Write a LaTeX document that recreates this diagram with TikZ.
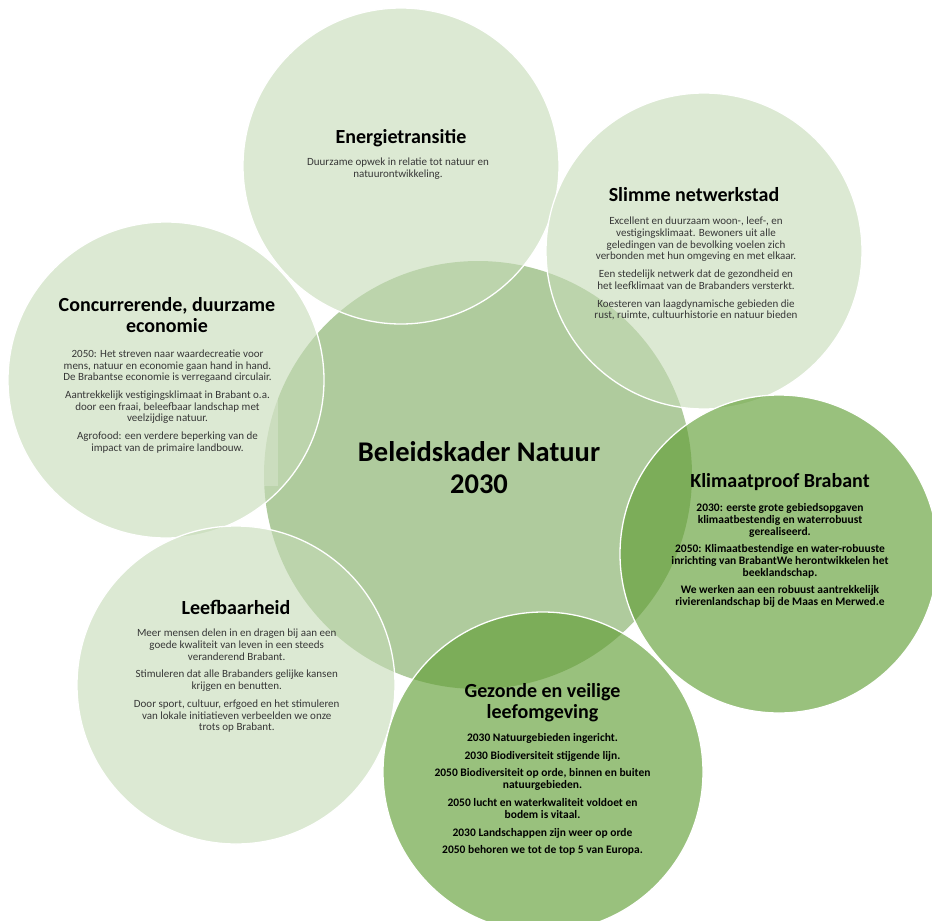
\documentclass[tikz,border=0pt]{standalone}
\usepackage{fontspec}
\setmainfont{Carlito}
\definecolor{centralc}{RGB}{175,203,157}
\definecolor{lightc}{RGB}{198,219,183}
\definecolor{darkc}{RGB}{95,157,50}
\definecolor{bodyc}{RGB}{55,55,55}
\begin{document}
\begin{tikzpicture}[x=1pt,y=-1pt,
  lightbubble/.style={circle, inner sep=0pt, draw=white, line width=1.3pt, fill=lightc, fill opacity=0.6, minimum size=#1},
  darkbubble/.style={circle, inner sep=0pt, draw=white, line width=1.3pt, fill=darkc, fill opacity=0.63, minimum size=#1},
  ttl/.style={font=\fontsize{20}{21}\selectfont\bfseries, align=center, inner sep=0pt},
  bodytxt/.style={font=\fontsize{11}{11.7}\selectfont, text=bodyc, align=center, inner sep=0pt, anchor=north},
  boldbody/.style={font=\fontsize{11.5}{12}\selectfont\bfseries, text=black, align=center, inner sep=0pt, anchor=north}]
\useasboundingbox (0,0) rectangle (932,921);
\clip (0,0) rectangle (932,921);
\fill[white] (0,0) rectangle (932,921);
% central circle
\node[circle, inner sep=0pt, fill=centralc, minimum size=428pt] (central) at (478,475) {};
% text box shade of the left circle
\node[rectangle, inner sep=0pt, fill=white, fill opacity=0.45, minimum width=228pt, minimum height=196pt] (concbox) at (164,388) {};
% outer circles
\node[lightbubble=316pt] (energie) at (401,166) {};
\node[lightbubble=316pt] (slimme) at (704,251) {};
\node[lightbubble=316pt] (conc) at (166,380) {};
\node[lightbubble=318pt] (leef) at (236,685) {};
\node[darkbubble=318pt] (klimaat) at (779,554) {};
\node[darkbubble=320pt] (gezonde) at (543,772) {};
% texts
\node[ttl, anchor=base] (energieT) at (401,143) {Energietransitie};
\node[bodytxt] (energieB) at (398,157.5) {Duurzame opwek in relatie tot natuur en\\natuurontwikkeling.};

\node[ttl, anchor=base] (slimmeT) at (694,201.5) {Slimme netwerkstad};
\node[bodytxt] (slimmeB) at (696,217) {Excellent en duurzaam woon-, leef-, en\\vestigingsklimaat. Bewoners uit alle\\geledingen van de bevolking voelen zich\\verbonden met hun omgeving en met elkaar.\\[6pt]Een stedelijk netwerk dat de gezondheid en\\het leefklimaat van de Brabanders versterkt.\\[6pt]Koesteren van laagdynamische gebieden die\\rust, ruimte, cultuurhistorie en natuur bieden};

\node[ttl, anchor=north] (concT) at (167,297) {Concurrerende, duurzame\\economie};
\node[bodytxt] (concB) at (167.5,349.5) {2050: Het streven naar waardecreatie voor\\mens, natuur en economie gaan hand in hand.\\De Brabantse economie is verregaand circulair.\\[6pt]Aantrekkelijk vestigingsklimaat in Brabant o.a.\\door een fraai, beleefbaar landschap met\\veelzijdige natuur.\\[6pt]Agrofood: een verdere beperking van de\\impact van de primaire landbouw.};

\node[font=\fontsize{28.5}{32}\selectfont\bfseries, align=center, inner sep=0pt, anchor=north] (centralT) at (479,441.5) {Beleidskader Natuur\\2030};

\node[ttl, anchor=base] (klimaatT) at (780,487) {Klimaatproof Brabant};
\node[boldbody] (klimaatB) at (780,503.5) {2030: eerste grote gebiedsopgaven\\klimaatbestendig en waterrobuust\\gerealiseerd.\\[5pt]2050: Klimaatbestendige en water-robuuste\\inrichting van BrabantWe herontwikkelen het\\beeklandschap.\\[5pt]We werken aan een robuust aantrekkelijk\\rivierenlandschap bij de Maas en Merwed.e};

\node[ttl, anchor=base] (leefT) at (236,614) {Leefbaarheid};
\node[bodytxt] (leefB) at (236.7,629) {Meer mensen delen in en dragen bij aan een\\goede kwaliteit van leven in een steeds\\veranderend Brabant.\\[6pt]Stimuleren dat alle Brabanders gelijke kansen\\krijgen en benutten.\\[6pt]Door sport, cultuur, erfgoed en het stimuleren\\van lokale initiatieven verbeelden we onze\\trots op Brabant.};

\node[ttl, anchor=north] (gezondeT) at (542.5,683) {Gezonde en veilige\\leefomgeving};
\node[boldbody] (gezondeB) at (542.5,733.5) {2030 Natuurgebieden ingericht.\\[5.6pt]2030 Biodiversiteit stijgende lijn.\\[5.6pt]2050 Biodiversiteit op orde, binnen en buiten\\natuurgebieden.\\[5.6pt]2050 lucht en waterkwaliteit voldoet en\\bodem is vitaal.\\[5.6pt]2030 Landschappen zijn weer op orde\\[5.6pt]2050 behoren we tot de top 5 van Europa.};
\end{tikzpicture}
\end{document}
